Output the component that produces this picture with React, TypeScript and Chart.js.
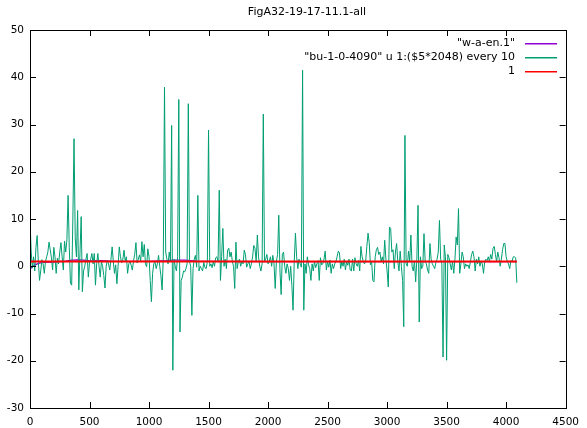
import React, { useEffect, useRef } from 'react';
import { Chart, registerables } from 'chart.js';

Chart.register(...registerables);

const TITLE = 'FigA32-19-17-11.1-all';
const LEGEND_LABELS = ['"w-a-en.1"', '"bu-1-0-4090" u 1:($5*2048) every 10', '1'];
const SERIES_COLORS = ['rgb(148, 0, 211)', 'rgb(0, 158, 115)', 'rgb(255, 0, 0)'];
const X_MIN = 0;
const X_MAX = 4500;
const X_STEP = 500;
const Y_MIN = -30;
const Y_MAX = 50;
const Y_STEP = 10;

// "bu-1-0-4090" sampled every 10 (x = 0, 10, ..., 4090)
const BU_STEP = 10;
const BU_VALUES = [
  9.7, 3, -0.4, 2, -1, 4, 6.5, 1, -3, -1,
  1.4, 0.5, -1.5, 1, 2, 3, 5.1, 3.5, 1.8, -0.8,
  4, 2, -1.5, 1.7, 0.5, 3, 5, 2, -0.8, 5.3,
  3, 5.6, 15, 4, -3.6, -4, 10, 27, 6, 2,
  11.8, -5, 3, 10.5, -5.4, -1, 0, 1.5, 2.7, -2.3,
  0.7, 1.5, 2.7, 0.5, 2.7, -4, 0.5, 2.7, 0, -2.3,
  1, 0, -2, -4.6, 0, 1.3, 0.5, -0.8, 1.5, 4.1,
  1, -1.5, 0.3, -3.7, 0, 4.1, 2, 0.7, 1.5, 3.4,
  1, 2, -1.5, 0.5, 1, 0.2, -0.8, 1.2, 2.5, 5,
  0.7, 1.5, 2.4, 1, 5.2, 2, 4.6, 0.5, -0.1, 3.7,
  2, -3, -7.5, -1.5, 0.5, 1, -0.5, 0.5, 2.3, 0,
  -2, -5, 2, 37.9, 3, 1.5, 0.5, 3, 1, 29.8,
  -22, 1.5, 0, -1, 2, 35.3, -13.9, -3, -2.3, -1,
  -1.2, -0.5, 0.5, 34.4, 1, 0, -10.4, -0.5, 1.5, 2.3,
  -0.2, 15, -1, 0, -0.5, -1, 0.8, -0.3, -0.5, 1,
  28.8, 0, 0.5, -0.3, 1, 0, 1.8, 2, 1, 16.1,
  -3, 2, 8, 0, 1.5, -0.5, 3.4, 3.8, 2, 3,
  1, 0, -4.7, 5.1, -0.5, 1, 1.5, 0, 1, 0.5,
  3.4, 2.5, -0.2, 0.5, 1, -0.5, 0.5, 2, 4.4, 3.8,
  1, 6.6, 2, 0, -1, 0.5, 32.2, 1, 1.5, 2.5,
  0.5, 1, 2, 0, 2.3, 0.5, -4.7, 1, 2.5, 10.8,
  -1, -6, 2.5, 3, 0, -1.5, 0.5, -0.5, -3, 0,
  -4, -9.3, 1, 7, 2, -0.5, 1.5, 0.5, -0.2, 41.5,
  -9.3, 0.5, -1.5, 2, 0.3, -0.5, -3, 0.5, -1, 1,
  -0.3, 0.5, 1.2, -3, 1.8, 0.3, 0.5, 1.5, 3.2, -0.8,
  1, -0.2, 1.3, -1.5, 0.5, -0.5, 0.5, 1, 2, 3.2,
  2.8, -0.5, 1, 0, 1.5, -0.8, 1, 0.2, 1.5, -0.8,
  -1, 1.5, -1, 1.8, 0.5, 0, 1.2, -1, 4.2, 2,
  1, 0.5, 1, 4.2, 7, 5, 0.3, 1, -3, -3.3,
  2, 3.5, 4, 2.5, 3, 1, 2, 0.5, 5.5, 1.5,
  -1, -4.4, 8.3, 8, 3, 3.5, -0.5, 3, 4.8, 1,
  -1, 3.2, 0, -3, -12.8, 27.7, 0.5, 0, 3.2, 1,
  6.6, 0, -1, 1.2, -3.3, 1.5, 12.9, -11.8, 2, -0.5,
  0, 6.9, 1, 0.5, -0.8, -1.5, 4.8, 1.5, 0.5, 0,
  -0.5, 0.8, 1.5, 3, 9.7, 1.5, 0.5, -19.2, 4.5, 2,
  -19.9, 2.5, 1.8, 0.5, -0.8, 1, -1.5, 1.5, 6.2, 4.5,
  12.2, -1.5, 0.5, 3, 2, -0.5, 0.5, 0, 0.3, -0.5,
  1, 2.5, 3.2, 2, -1, 1.5, 0.5, 2, 0, 1,
  0.5, -1.5, 1, 1.5, 1.2, 2, 1, 2.5, 1.5, 3.8,
  4.2, 2.5, 1, 3, 1.8, 0, 1.5, 3.5, 4.8, 4.8,
  2, 1, 0.5, -0.5, 1.2, 1, 2, 2, 1.8, -3.5,
];

// "w-a-en.1"
const WAEN_X = [0, 20, 50, 100, 200, 300, 350, 400, 450, 500, 600, 700, 1000, 1150, 1200, 1300, 1400, 1500, 2000, 3000, 4090];
const WAEN_Y = [-0.6, -0.1, 0.4, 0.8, 0.9, 1.1, 1.3, 1.35, 1.3, 1.15, 1.2, 1.05, 1.05, 1.2, 1.3, 1.3, 1.1, 1.05, 1.0, 1.0, 1.0];

// constant function 1
const ONE_X = [0, 4090];
const ONE_Y = [1, 1];

const FONT = '"DejaVu Sans", sans-serif';
const TICK_FONT_SIZE = 10.5;
const TEXT_FONT_SIZE = 11;

const gnuplotPlugin = {
  id: 'gnuplotFrame',
  afterDraw(chart: any) {
    const { ctx, chartArea } = chart;
    const { left, right, top, bottom } = chartArea;
    const xs = chart.scales.x;
    const ys = chart.scales.y;
    ctx.save();
    ctx.globalAlpha = 1;
    ctx.globalCompositeOperation = 'source-over';
    ctx.strokeStyle = '#000';
    ctx.lineWidth = 1;
    ctx.beginPath();
    const tl = 6;
    for (let v = X_MIN; v <= X_MAX; v += X_STEP) {
      const px = Math.round(xs.getPixelForValue(v)) + 0.5;
      ctx.moveTo(px, bottom);
      ctx.lineTo(px, bottom - tl);
      ctx.moveTo(px, top);
      ctx.lineTo(px, top + tl);
    }
    for (let v = Y_MIN; v <= Y_MAX; v += Y_STEP) {
      const py = Math.round(ys.getPixelForValue(v)) + 0.5;
      ctx.moveTo(left, py);
      ctx.lineTo(left + tl, py);
      ctx.moveTo(right, py);
      ctx.lineTo(right - tl, py);
    }
    ctx.stroke();
    ctx.strokeRect(Math.round(left) + 0.5, Math.round(top) + 0.5, Math.round(right - left), Math.round(bottom - top));

    // title
    ctx.fillStyle = '#000';
    ctx.font = `${TEXT_FONT_SIZE}px ${FONT}`;
    ctx.textAlign = 'center';
    ctx.textBaseline = 'middle';
    ctx.fillText(TITLE, 307, 12);

    // legend
    const rowY = [43, 57, 71];
    ctx.textAlign = 'right';
    LEGEND_LABELS.forEach((label, i) => {
      ctx.fillStyle = '#000';
      ctx.fillText(label, 515, rowY[i]);
      ctx.fillStyle = SERIES_COLORS[i];
      ctx.fillRect(525, rowY[i], 32, 1.5);
    });
    ctx.restore();
  },
};

export default function App() {
  const ref = useRef<HTMLCanvasElement | null>(null);

  useEffect(() => {
    if (!ref.current) return;
    const buData = BU_VALUES.map((y, i) => ({ x: i * BU_STEP, y }));
    const waenData = WAEN_X.map((x, i) => ({ x, y: WAEN_Y[i] }));
    const oneData = ONE_X.map((x, i) => ({ x, y: ONE_Y[i] }));
    const chart = new Chart(ref.current, {
      type: 'line',
      data: {
        datasets: [
          { label: LEGEND_LABELS[0], data: waenData, borderColor: SERIES_COLORS[0], backgroundColor: SERIES_COLORS[0], borderWidth: 1.3, pointRadius: 0, tension: 0, order: 3, fill: false },
          { label: LEGEND_LABELS[1], data: buData, borderColor: SERIES_COLORS[1], backgroundColor: SERIES_COLORS[1], borderWidth: 1, pointRadius: 0, tension: 0, order: 2, fill: false },
          { label: LEGEND_LABELS[2], data: oneData, borderColor: SERIES_COLORS[2], backgroundColor: SERIES_COLORS[2], borderWidth: 2, pointRadius: 0, tension: 0, order: 1, fill: false },
        ],
      },
      options: {
        animation: false,
        responsive: false,
        layout: { padding: { top: 30, right: 16, left: 0, bottom: 0 } },
        plugins: { legend: { display: false }, tooltip: { enabled: false }, title: { display: false } },
        scales: {
          x: {
            type: 'linear',
            min: X_MIN,
            max: X_MAX,
            grid: { display: false, drawTicks: false },
            border: { display: false },
            ticks: {
              stepSize: X_STEP,
              color: '#000',
              font: { family: FONT, size: TICK_FONT_SIZE },
              padding: 8,
              maxRotation: 0,
              autoSkip: false,
              callback: (v: any) => String(v),
            },
            afterFit: (s: any) => { s.height = 20; },
          },
          y: {
            type: 'linear',
            min: Y_MIN,
            max: Y_MAX,
            grid: { display: false, drawTicks: false },
            border: { display: false },
            ticks: {
              stepSize: Y_STEP,
              color: '#000',
              font: { family: FONT, size: TICK_FONT_SIZE },
              padding: 6,
              callback: (v: any) => String(v),
            },
            afterFit: (s: any) => { s.width = 30; },
          },
        },
      },
      plugins: [gnuplotPlugin],
    });
    return () => chart.destroy();
  }, []);

  return (
    <div style={{ position: 'fixed', left: 0, top: 0, width: 587, height: 428, background: '#fff' }}>
      <canvas ref={ref} width={587} height={428} />
    </div>
  );
}
